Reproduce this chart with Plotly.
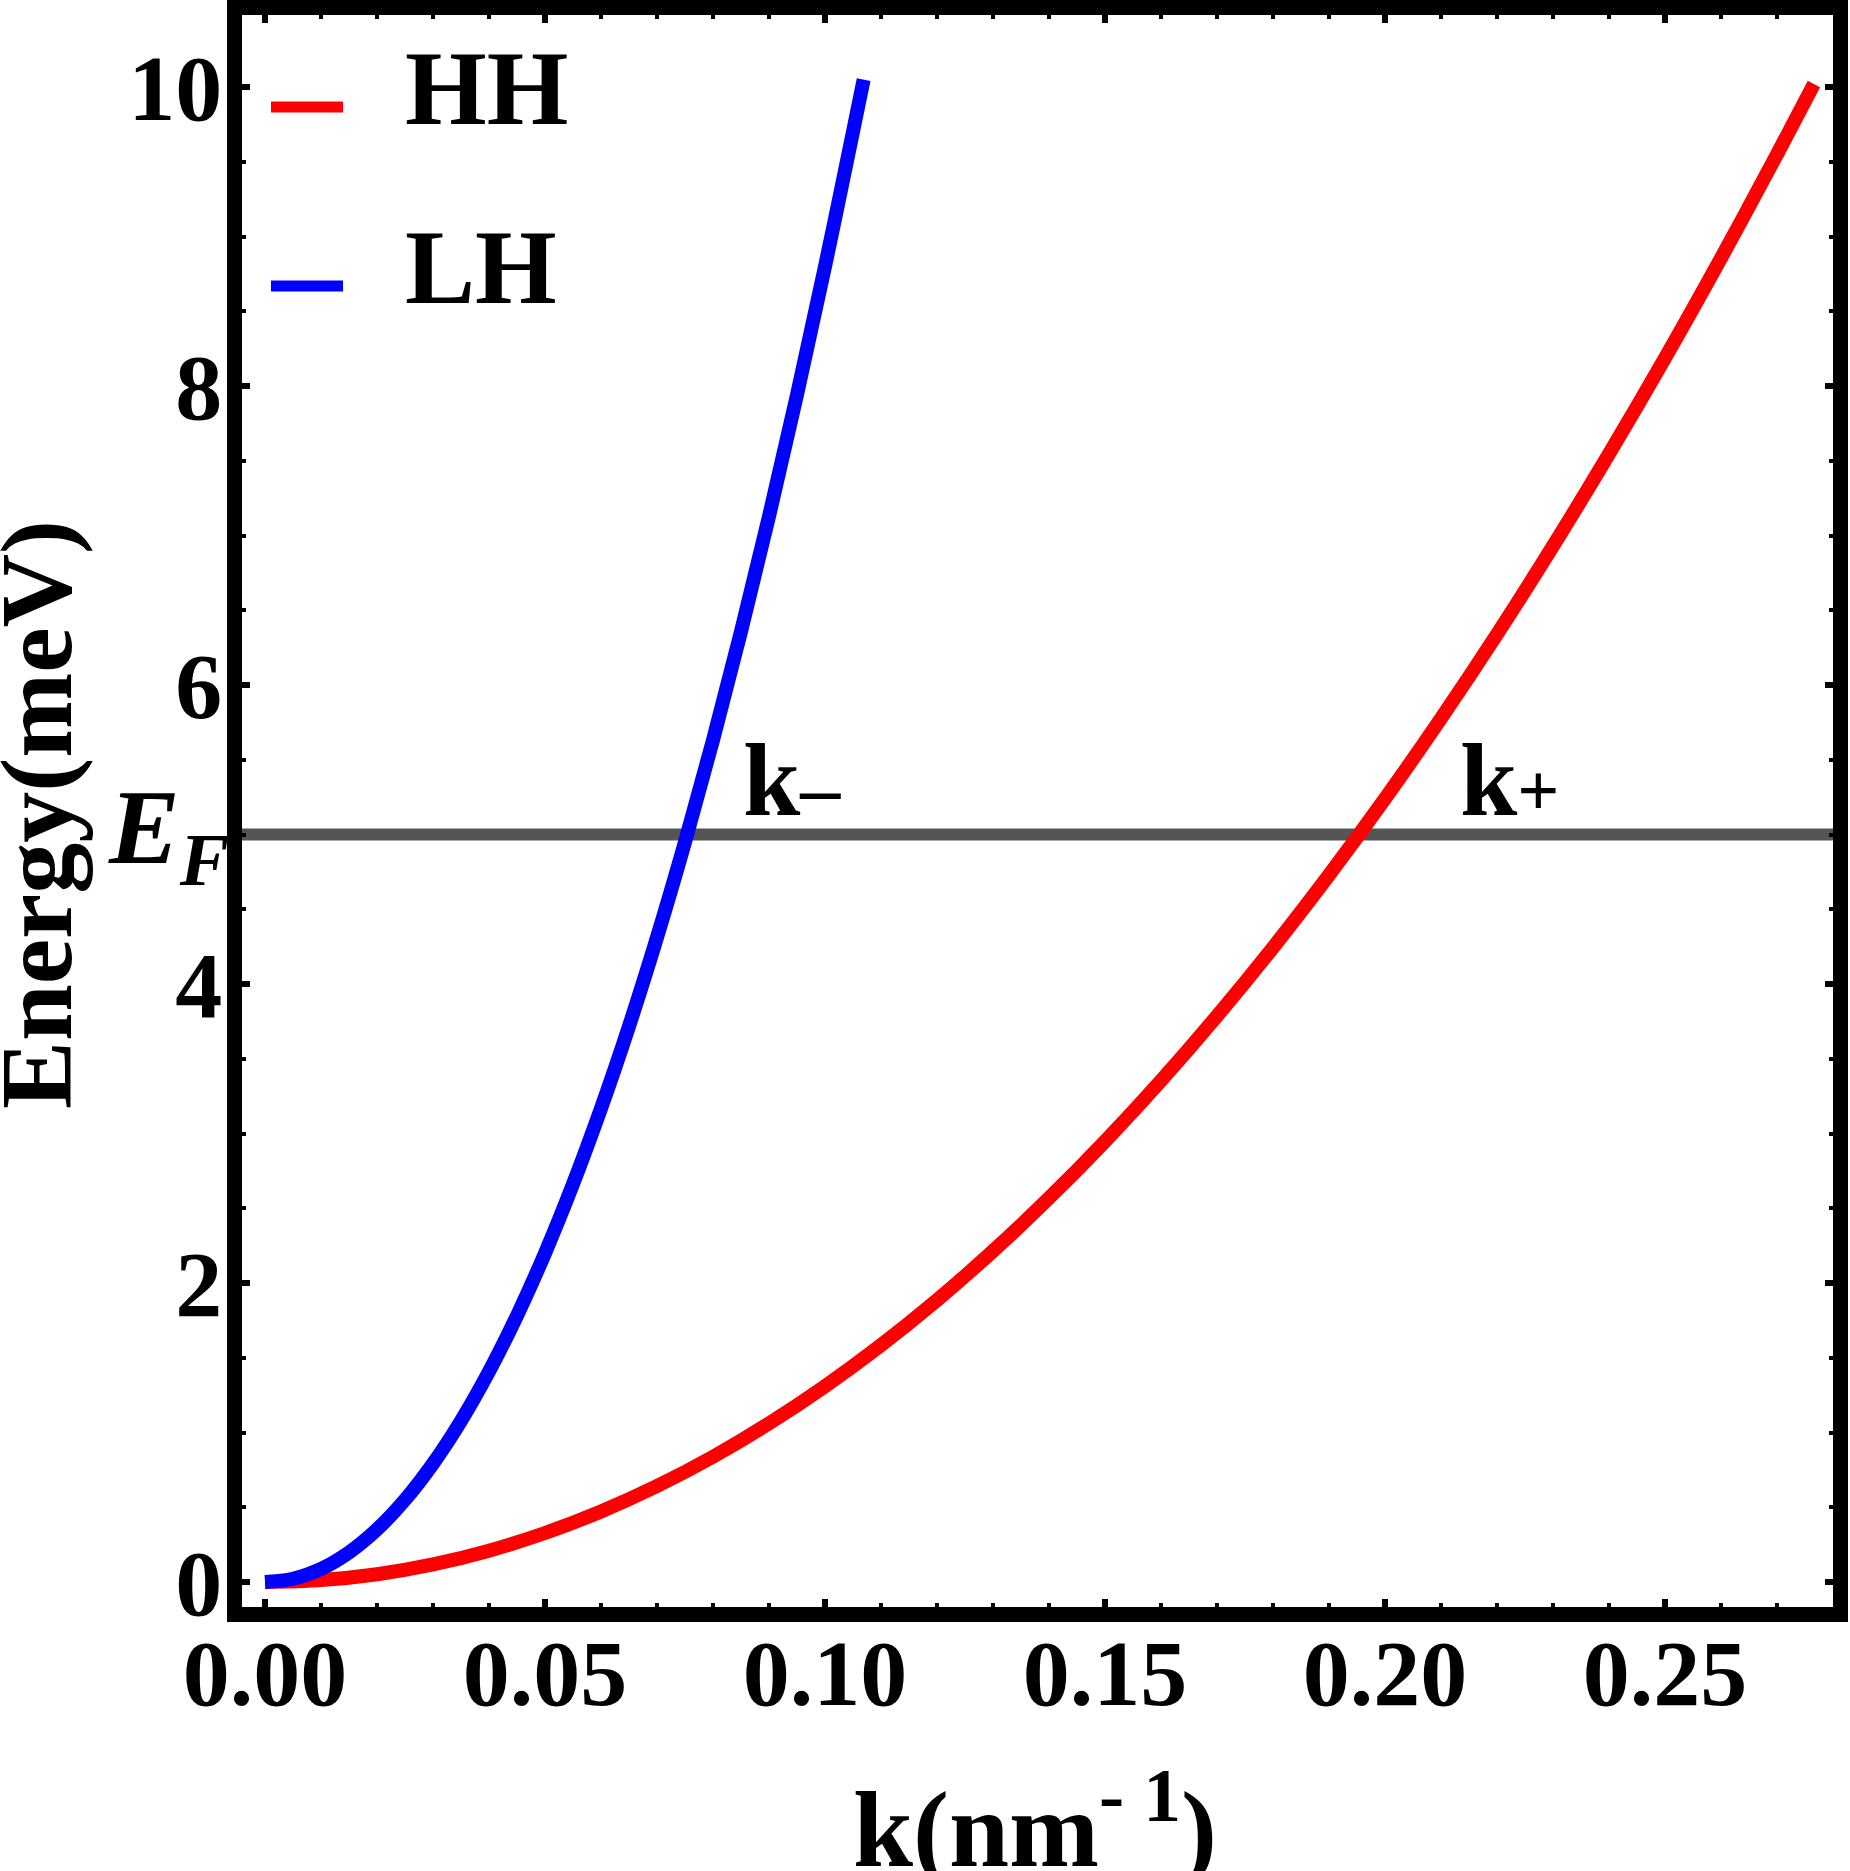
import plotly.graph_objects as go

# ---- data ----
k_hh = [0.000, 0.010, 0.020, 0.030, 0.040, 0.050, 0.060, 0.070, 0.080, 0.090,
        0.100, 0.110, 0.120, 0.130, 0.140, 0.150, 0.160, 0.170, 0.180, 0.190,
        0.200, 0.210, 0.220, 0.230, 0.240, 0.250, 0.260, 0.270, 0.2766]
e_hh = [0.000, 0.013, 0.052, 0.118, 0.210, 0.328, 0.472, 0.642, 0.838, 1.061,
        1.310, 1.585, 1.886, 2.214, 2.568, 2.948, 3.354, 3.786, 4.244, 4.729,
        5.240, 5.777, 6.340, 6.930, 7.546, 8.188, 8.856, 9.550, 10.02]

k_lh = [0.000, 0.005, 0.010, 0.015, 0.020, 0.025, 0.030, 0.035, 0.040, 0.045,
        0.050, 0.055, 0.060, 0.065, 0.070, 0.075, 0.080, 0.085, 0.090, 0.095,
        0.100, 0.105, 0.1069]
e_lh = [0.000, 0.022, 0.088, 0.198, 0.352, 0.550, 0.792, 1.078, 1.408, 1.782,
        2.200, 2.662, 3.168, 3.718, 4.312, 4.950, 5.632, 6.358, 7.128, 7.942,
        8.800, 9.702, 10.05]

e_fermi = 5.0
series_names = ["HH", "LH"]
series_colors = ["#FF0000", "#0000FF"]

x_tickvals = [0.00, 0.05, 0.10, 0.15, 0.20, 0.25]
x_ticktext = ["0.00", "0.05", "0.10", "0.15", "0.20", "0.25"]
y_tickvals = [0, 2, 4, 6, 8, 10]
y_ticktext = ["0", "2", "4", "6", "8", "10"]

FONT = "Liberation Serif"
LW = 15

fig = go.Figure()

# Fermi level line
fig.add_shape(type="line", xref="paper", yref="y", x0=-0.005, x1=1.0,
              y0=e_fermi, y1=e_fermi, line=dict(color="rgb(85,85,85)", width=12),
              layer="below")

fig.add_trace(go.Scatter(x=k_hh, y=e_hh, mode="lines", name=series_names[0],
                         line=dict(color=series_colors[0], width=14, shape="spline"),
                         showlegend=False))
fig.add_trace(go.Scatter(x=k_lh, y=e_lh, mode="lines", name=series_names[1],
                         line=dict(color=series_colors[1], width=14, shape="spline"),
                         showlegend=False))

axis_common = dict(
    showline=True, linecolor="black", linewidth=LW, mirror="allticks",
    ticks="inside", ticklen=8, tickwidth=6, tickcolor="black",
    showgrid=False, zeroline=False, automargin=False,
    tickfont=dict(family=FONT, size=94, color="black", weight="bold"),
)

fig.update_xaxes(range=[-0.00411, 0.28], tickvals=x_tickvals, ticktext=x_ticktext,
                 ticklabelstandoff=-30,
                 minor=dict(dtick=0.01, tick0=0, ticks="inside", ticklen=4,
                            tickwidth=4, tickcolor="black"),
                 **axis_common)
fig.update_yaxes(range=[-0.167, 10.482], tickvals=y_tickvals, ticktext=y_ticktext,
                 ticklabelstandoff=-14,
                 minor=dict(dtick=0.5, tick0=0, ticks="inside", ticklen=4,
                            tickwidth=4, tickcolor="black"),
                 **axis_common)

annotations = []
# legend (drawn manually to match the long line samples)
leg_y = [0.9422, 0.8298]
leg_text_y = [0.9541, 0.8411]
for name, col, ly, ty in zip(series_names, series_colors, leg_y, leg_text_y):
    fig.add_shape(type="line", xref="paper", yref="paper", x0=0.0182, x1=0.0635,
                  y0=ly, y1=ly, line=dict(color=col, width=11))
    annotations.append(dict(text="<b>%s</b>" % name, xref="paper", yref="paper",
                            x=0.1012, y=ty, xanchor="left", yanchor="middle",
                            showarrow=False,
                            font=dict(family=FONT, size=105, color="black")))

# E_F label
annotations.append(dict(text="<b><i>E</i><sub><i>F</i></sub></b>", xref="paper", yref="y",
                        x=-0.007, y=5.45, xanchor="right", yanchor="top", showarrow=False,
                        font=dict(family=FONT, size=106, color="black")))
# k- and k+ labels
annotations.append(dict(text="<b>k<span style='font-size:80px'>\u2013</span></b>",
                        xref="x", yref="y", x=0.0850, y=5.76, xanchor="left",
                        yanchor="top", showarrow=False,
                        font=dict(family=FONT, size=103, color="black")))
annotations.append(dict(text="<b>k<span style='font-size:74px'>+</span></b>",
                        xref="x", yref="y", x=0.2130, y=5.76, xanchor="left",
                        yanchor="top", showarrow=False,
                        font=dict(family=FONT, size=103, color="black")))
# axis titles
annotations.append(dict(text="<b>k(nm<sup>- 1</sup>)</b>", xref="paper", yref="paper",
                        x=0.4987, y=-0.179, xanchor="center", yanchor="bottom",
                        showarrow=False, font=dict(family=FONT, size=108, color="black")))
annotations.append(dict(text="<b>Energy(meV)</b>", xref="paper", yref="paper",
                        x=-0.1288, y=0.4975, xanchor="center", yanchor="middle",
                        textangle=-90, showarrow=False,
                        font=dict(family=FONT, size=102, color="black")))

fig.update_layout(
    width=1850, height=1871,
    margin=dict(l=242, r=17, t=15, b=264),
    paper_bgcolor="white", plot_bgcolor="white",
    font=dict(family=FONT, color="black"),
    annotations=annotations,
    showlegend=False,
)

fig.write_html("out.html")
